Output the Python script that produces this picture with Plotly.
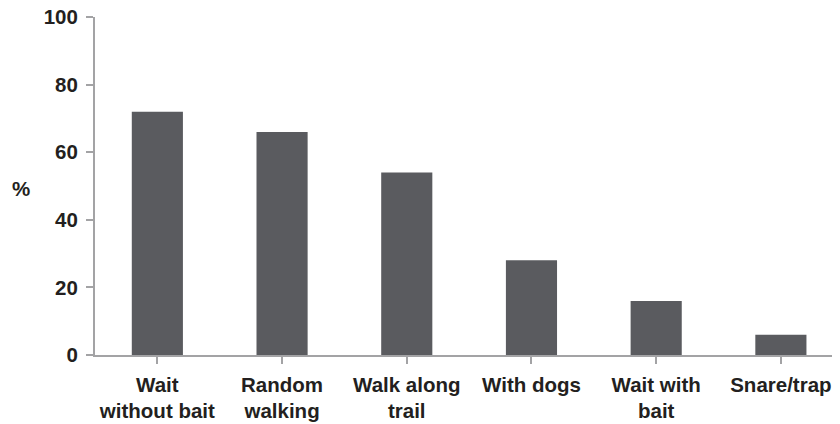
import plotly.graph_objects as go

categories = ["Wait<br>without bait", "Random<br>walking", "Walk along<br>trail", "With dogs", "Wait with<br>bait", "Snare/trap"]
values = [72, 66, 54, 28, 16, 6]
y_ticks = [0, 20, 40, 60, 80, 100]

font = dict(family="Liberation Sans, Arial, sans-serif", size=20.5, color="#231f20")
axis_col = "#a3a3a5"

fig = go.Figure(go.Bar(x=list(range(len(categories))), y=values, marker=dict(color="#5a5b5f", line=dict(width=0))))

# page has an 8px body margin, so figure is 832x416 placed at (8, 8)
fig.update_layout(
    width=832, height=416,
    margin=dict(l=87, r=0, t=9, b=69, autoexpand=False),
    paper_bgcolor="white", plot_bgcolor="white",
    bargap=0.59,
    showlegend=False,
    font=font,
)
fig.update_xaxes(
    range=[-0.5, 5.474],
    tickmode="array", tickvals=list(range(len(categories))), ticktext=["<b>%s</b>" % c for c in categories],
    tickson="boundaries", ticks="outside", ticklen=7, tickwidth=2, tickcolor=axis_col,
    showline=True, linecolor=axis_col, linewidth=2,
    showgrid=False, zeroline=False,
    tickfont=font, ticklabelstandoff=3, automargin=False, ticklabeloverflow="allow",
)
fig.update_yaxes(
    range=[0, 100],
    tickmode="array", tickvals=y_ticks, ticktext=["<b>%d</b>" % v for v in y_ticks],
    ticks="outside", ticklen=7, tickwidth=2, tickcolor=axis_col,
    showline=True, linecolor=axis_col, linewidth=2,
    showgrid=False, zeroline=False,
    tickfont=font, ticklabelstandoff=4, automargin=False, ticklabeloverflow="allow",
)
fig.add_annotation(text="<b>%</b>", x=(20.5 - 95) / 745, y=(355 - 188) / 338,
                   xref="x domain", yref="y domain", xanchor="center", yanchor="middle",
                   showarrow=False, font=font)
fig.write_html("out.html")
